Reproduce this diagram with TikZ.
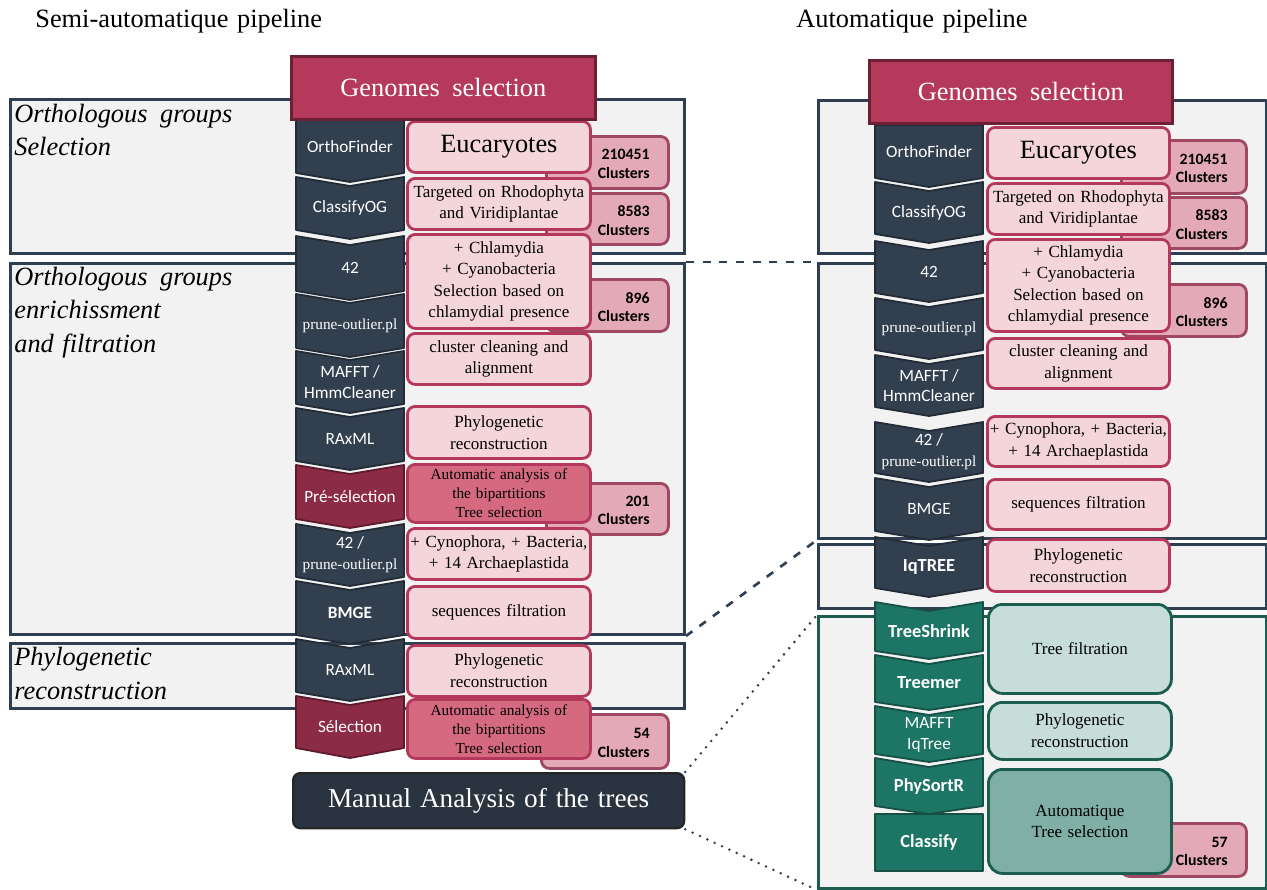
\documentclass[tikz,border=0pt]{standalone}
\usepackage{fontspec}
\setmainfont{Liberation Serif}[WordSpace=1.3]
\newfontfamily\carl{Carlito}
\definecolor{slate}{HTML}{2F3E50}
\definecolor{stagefill}{HTML}{F2F2F2}
\definecolor{chevfill}{HTML}{323F4F}
\definecolor{chevline}{HTML}{222B36}
\definecolor{crim}{HTML}{B5395A}
\definecolor{crimline}{HTML}{6C2036}
\definecolor{pinkfill}{HTML}{F4D6DA}
\definecolor{pinkline}{HTML}{B3385B}
\definecolor{pinkdark}{HTML}{D4697F}
\definecolor{redchev}{HTML}{8C2B46}
\definecolor{redchevline}{HTML}{5E1A2D}
\definecolor{clfill}{HTML}{E4A9B7}
\definecolor{clline}{HTML}{9E4864}
\definecolor{manfill}{HTML}{2A3340}
\definecolor{greenchev}{HTML}{1C7565}
\definecolor{greenline}{HTML}{164F44}
\definecolor{greenlight}{HTML}{C6DDD9}
\definecolor{greenmid}{HTML}{80AFA6}
\definecolor{greenstage}{HTML}{1B5E4F}
\newcommand\bx[7]{\node[#2, anchor=north west, minimum width={(#5-#3)*0.02cm}, minimum height={(#6-#4)*0.02cm}, inner sep=0pt] (#1) at (#3,#4) {#7};}
\newcommand\clus[6]{\bx{#1}{clbox}{#2}{#3}{#4}{#5}{}\node[cltext,anchor=east] (#1t) at ({#4-17},{(#3+#5)/2+3}) {#6\\Clusters};}
\newcommand\chev[8]{%
 \draw[#2] (#3,#4) -- ({#3+54},{#4+#6}) -- ({#3+108},#4) -- ({#3+108},#5) -- ({#3+54},{#5+#7}) -- (#3,#5) -- cycle;
 \node[chevtext] (#1) at ({#3+54},{(#4+#5)/2+#6/2}) {#8};}
\newcommand\pr{\rmfamily\fontsize{8.7}{11}\selectfont prune-outlier.pl}
\begin{document}
\begin{tikzpicture}[x=0.02cm,y=-0.02cm,
 sbox/.style={draw=slate, fill=stagefill, line width=1.7pt},
 gsbox/.style={draw=greenstage, fill=stagefill, line width=1.7pt},
 genbox/.style={draw=crimline, fill=crim, line width=1.5pt, text=white, font=\fontsize{15}{18}\selectfont},
 descbox/.style={draw=pinkline, fill=pinkfill, line width=1.6pt, rounded corners=4.5pt, align=center, font=\fontsize{9.7}{12.3}\selectfont},
 descdark/.style={descbox, fill=pinkdark, font=\fontsize{8.7}{10.8}\selectfont},
 gdesc/.style={descbox, draw=greenstage, fill=greenlight, rounded corners=8pt},
 gdescmid/.style={gdesc, fill=greenmid},
 clbox/.style={draw=clline, fill=clfill, line width=1.6pt, rounded corners=4.5pt},
 cltext/.style={align=right, font=\carl\bfseries\fontsize{9}{10.5}\selectfont, inner sep=0pt},
 chevd/.style={draw=chevline, fill=chevfill, line width=1pt, line join=round},
 chevr/.style={draw=redchevline, fill=redchev, line width=1pt, line join=round},
 chevg/.style={draw=greenline, fill=greenchev, line width=1pt, line join=round},
 chevtext/.style={text=white, align=center, font=\carl\fontsize{9.8}{11.8}\selectfont, inner sep=0pt},
 manbox/.style={draw=black!85, fill=manfill, line width=1.3pt, rounded corners=4pt, text=white, font=\fontsize{15.5}{18}\selectfont},
 stagelab/.style={font=\itshape\fontsize{15}{18}\selectfont, inner sep=0pt, anchor=base west},
 titletext/.style={font=\fontsize{15}{18}\selectfont, inner sep=0pt, anchor=base west},
 conn/.style={draw=slate, line width=1.5pt}]
\useasboundingbox (0,0) rectangle (1267,889);
% stage boxes
\bx{L1}{sbox}{9}{98}{683}{252}{}
\bx{L2}{sbox}{9}{262}{683}{633}{}
\bx{L3}{sbox}{9}{642}{683}{707}{}
\bx{R1}{sbox}{817}{99}{1265}{252}{}
\bx{R2}{sbox}{817}{262}{1265}{537}{}
\bx{R3}{sbox}{817}{543}{1265}{607}{}
\bx{R4}{gsbox}{817}{615}{1265}{887}{}
% manual analysis
\bx{man}{manbox}{292}{772}{683}{827}{Manual Analysis of the trees}
% connectors
\draw[conn, dash pattern=on 4.5pt off 5pt] (L2.north east) -- (R2.north west);
\draw[conn, dash pattern=on 4.5pt off 5pt] (L2.south east) -- (R2.south west);
\draw[conn, line width=1.6pt, line cap=round, dash pattern=on 0pt off 4.6pt] (man.north east) -- (R4.north west);
\draw[conn, line width=1.6pt, line cap=round, dash pattern=on 0pt off 4.6pt] (man.south east) -- (R4.south west);
% cluster boxes left
\clus{cL1}{545}{135}{667}{187}{210451}
\clus{cL2}{545}{192}{667}{243}{8583}
\clus{cL3}{545}{278}{667}{330}{896}
\clus{cL4}{545}{482}{667}{533}{201}
\clus{cL5}{540}{713}{667}{767}{54}
% cluster boxes right
\clus{cR1}{1120}{139}{1245}{192}{210451}
\clus{cR2}{1120}{196}{1245}{247}{8583}
\clus{cR3}{1120}{283}{1245}{335}{896}
\clus{cR4}{1120}{822}{1245}{875}{57}
% description boxes left
\bx{dL1}{descbox}{406}{120}{589}{171}{\fontsize{15}{18}\selectfont Eucaryotes}
\bx{dL2}{descbox}{406}{177}{589}{228}{Targeted on Rhodophyta\\and Viridiplantae}
\bx{dL3}{descbox}{406}{233}{589}{327}{+ Chlamydia\\+ Cyanobacteria\\Selection based on\\chlamydial presence}
\bx{dL4}{descbox}{406}{332}{589}{383}{cluster cleaning and\\alignment}
\bx{dL5}{descbox}{406}{405}{589}{457}{Phylogenetic\\reconstruction}
\bx{dL6}{descdark}{406}{463}{589}{521}{Automatic analysis of\\the bipartitions\\Tree selection}
\bx{dL7}{descbox}{406}{527}{589}{578}{+ Cynophora, + Bacteria,\\+ 14 Archaeplastida}
\bx{dL8}{descbox}{406}{585}{589}{637}{sequences filtration}
\bx{dL9}{descbox}{406}{644}{589}{695}{Phylogenetic\\reconstruction}
\bx{dL10}{descdark}{406}{698}{589}{757}{Automatic analysis of\\the bipartitions\\Tree selection}
% description boxes right
\bx{dR1}{descbox}{986}{126}{1168}{177}{\fontsize{15}{18}\selectfont Eucaryotes}
\bx{dR2}{descbox}{986}{182}{1168}{233}{Targeted on Rhodophyta\\and Viridiplantae}
\bx{dR3}{descbox}{986}{238}{1168}{330}{+ Chlamydia\\+ Cyanobacteria\\Selection based on\\chlamydial presence}
\bx{dR4}{descbox}{986}{337}{1168}{387}{cluster cleaning and\\alignment}
\bx{dR5}{descbox}{986}{415}{1168}{465}{+ Cynophora, + Bacteria,\\+ 14 Archaeplastida}
\bx{dR6}{descbox}{986}{478}{1168}{528}{sequences filtration}
\bx{dR7}{descbox}{986}{538}{1168}{590}{Phylogenetic\\reconstruction}
\bx{dR8}{gdesc}{987}{603}{1170}{692}{Tree filtration}
\bx{dR9}{gdesc}{987}{701}{1170}{758}{Phylogenetic\\reconstruction}
\bx{dR10}{gdescmid}{987}{768}{1170}{872}{Automatique\\Tree selection}
% chevrons left
\chev{kL1}{chevd}{296}{120}{173}{0}{9}{OrthoFinder}
\chev{kL2}{chevd}{296}{177}{230}{9}{9}{ClassifyOG}
\chev{kL3}{chevd}{296}{236}{291}{9}{9}{42}
\chev{kL4}{chevd}{296}{294}{348}{9}{9}{\pr}
\chev{kL5}{chevd}{296}{351}{404}{9}{9}{MAFFT /\\HmmCleaner}
\chev{kL6}{chevd}{296}{408}{461}{9}{9}{RAxML}
\chev{kL7}{chevr}{296}{465}{519}{9}{9}{Pré-sélection}
\chev{kL8}{chevd}{296}{524}{577}{9}{9}{42 /\\\pr}
\chev{kL9}{chevd}{296}{581}{635}{9}{9}{\bfseries BMGE}
\chev{kL10}{chevd}{296}{639}{692}{9}{9}{RAxML}
\chev{kL11}{chevr}{296}{696}{748}{9}{10}{Sélection}
% chevrons right
\chev{kR1}{chevd}{875}{125}{178}{0}{9}{OrthoFinder}
\chev{kR2}{chevd}{875}{182}{234}{9}{9}{ClassifyOG}
\chev{kR3}{chevd}{875}{241}{293}{9}{9}{42}
\chev{kR4}{chevd}{875}{298}{350}{9}{9}{\pr}
\chev{kR5}{chevd}{875}{355}{407}{9}{9}{MAFFT /\\HmmCleaner}
\chev{kR6}{chevd}{875}{422}{473}{9}{9}{42 /\\\pr}
\chev{kR7}{chevd}{875}{478}{531}{9}{9}{BMGE}
\chev{kR8}{chevd}{875}{537}{588}{9}{9}{\bfseries\fontsize{10.5}{12}\selectfont IqTREE}
\chev{kR9}{chevg}{875}{602}{651}{9}{8}{\bfseries\fontsize{10.5}{12}\selectfont TreeShrink}
\chev{kR10}{chevg}{875}{655}{702}{9}{8}{\bfseries\fontsize{10.5}{12}\selectfont Treemer}
\chev{kR11}{chevg}{875}{706}{754}{9}{8}{MAFFT\\IqTree}
\chev{kR12}{chevg}{875}{758}{806}{9}{8}{\bfseries\fontsize{10.5}{12}\selectfont PhySortR}
\chev{kR13}{chevg}{875}{814}{871}{0}{0}{\bfseries\fontsize{10.5}{12}\selectfont Classify}
% genomes selection
\bx{gL}{genbox}{290}{55}{594}{118}{Genomes\hspace{0.15em} selection}
\bx{gR}{genbox}{868}{59}{1171}{122}{Genomes\hspace{0.15em} selection}
% titles
\node[titletext] (tL) at (35,28) {Semi-automatique pipeline};
\node[titletext] (tR) at (796,28) {Automatique pipeline};
% stage labels
\node[stagelab] (s1a) at (14,122) {Orthologous\hspace{0.15em} groups};
\node[stagelab] (s1b) at (14,155) {Selection};
\node[stagelab] (s2a) at (14,285) {Orthologous\hspace{0.15em} groups};
\node[stagelab] (s2b) at (14,318) {enrichissment};
\node[stagelab] (s2c) at (14,352) {and filtration};
\node[stagelab] (s3a) at (14,665) {Phylogenetic};
\node[stagelab] (s3b) at (14,699) {reconstruction};
\end{tikzpicture}
\end{document}
